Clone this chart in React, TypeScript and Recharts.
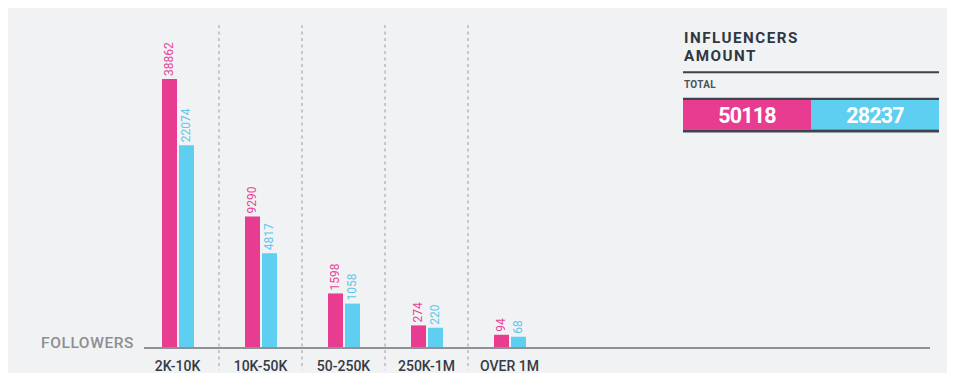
import React from 'react';
import { BarChart, Bar, XAxis, YAxis, LabelList } from 'recharts';

// Follower brackets and the two influencer counts per bracket
const categories = ['2K-10K', '10K-50K', '50-250K', '250K-1M', 'OVER 1M'];
const magentaValues = [38862, 9290, 1598, 274, 94];
const cyanValues = [22074, 4817, 1058, 220, 68];

const titleLines = ['INFLUENCERS', 'AMOUNT'];
const totalLabel = 'TOTAL';
const axisTitle = 'FOLLOWERS';

const MAGENTA = '#e83c91';
const CYAN = '#5ecef1';
const PANEL = '#f1f2f4';
const DARK = '#2f3742';
const FONT = 'Roboto, "Noto Sans", sans-serif';

const W = 947;
const H = 373;
const MARGIN = { top: 17, right: 25, bottom: 0, left: 136 };
const X_AXIS_H = 33;
const PLOT_H = H - MARGIN.top - MARGIN.bottom - X_AXIS_H;

const rows = categories.map((name, i) => ({
  name,
  magenta: magentaValues[i],
  cyan: cyanValues[i],
}));

const sum = (list: number[]) => list.reduce((s, v) => s + v, 0);

// Rotated value label sitting just above each bar
const makeValueLabel = (color: string) => (props: any) => {
  const { x, y, width, value } = props;
  const cx = Number(x) + Number(width) / 2;
  const cy = Number(y) - 3;
  return (
    <text
      x={cx}
      y={cy}
      transform={`rotate(-90 ${cx} ${cy})`}
      textAnchor="start"
      dominantBaseline="central"
      fill={color}
      fontSize={12}
      fontFamily={FONT}
    >
      {value}
    </text>
  );
};

// Category name plus a dashed divider on the right edge of its band
const CategoryTick = (props: any) => {
  const { x, y, payload, index } = props;
  const half = payload && typeof payload.offset === 'number' ? payload.offset : 0;
  const isLast = index === categories.length - 1;
  return (
    <g>
      {!isLast && (
        <line
          x1={x + half}
          x2={x + half}
          y1={y - PLOT_H}
          y2={y + 22}
          stroke="#b4b6b9"
          strokeWidth={1.4}
          strokeDasharray="3 3.5"
        />
      )}
      <text
        x={x}
        y={y + 23}
        textAnchor="middle"
        fill="#353b44"
        fontSize={14}
        fontWeight={500}
        fontFamily={FONT}
      >
        {payload.value}
      </text>
    </g>
  );
};

export default function App() {
  const magentaTotal = sum(magentaValues);
  const cyanTotal = sum(cyanValues);
  return (
    <div
      style={{
        position: 'relative',
        width: W,
        height: H,
        background: PANEL,
        marginBottom: -8,
        marginRight: -8,
      }}
    >
      <BarChart width={W} height={H} data={rows} margin={MARGIN} barSize={15} barGap={2}>
        <YAxis hide type="number" scale="sqrt" domain={[0, 56000]} allowDataOverflow />
        <XAxis
          dataKey="name"
          height={X_AXIS_H}
          padding={{ left: -8, right: 379 }}
          tickLine={false}
          tickSize={0}
          tickMargin={0}
          interval={0}
          axisLine={{ stroke: '#8f9195', strokeWidth: 2 }}
          tick={(p: any) => <CategoryTick {...p} />}
        />
        <Bar dataKey="magenta" fill={MAGENTA} isAnimationActive={false}>
          <LabelList dataKey="magenta" content={makeValueLabel('#e8449a')} />
        </Bar>
        <Bar dataKey="cyan" fill={CYAN} isAnimationActive={false}>
          <LabelList dataKey="cyan" content={makeValueLabel('#5cc8ee')} />
        </Bar>
      </BarChart>

      <svg
        width={W}
        height={H}
        style={{ position: 'absolute', left: 0, top: 0, pointerEvents: 'none' }}
      >
        <text
          x={33}
          y={340}
          fill="#8b8e93"
          fontSize={15.5}
          fontWeight={500}
          letterSpacing={0.6}
          fontFamily={FONT}
        >
          {axisTitle}
        </text>

        <g fontFamily={FONT} fontWeight={700} fill={DARK}>
          <text x={676} y={35.3} fontSize={15.2} letterSpacing={1.5}>
            {titleLines[0]}
          </text>
          <text x={676} y={52.7} fontSize={15.2} letterSpacing={1.5}>
            {titleLines[1]}
          </text>
          <line x1={675} x2={931} y1={64.3} y2={64.3} stroke="#3b424b" strokeWidth={2} />
          <text x={676} y={80.3} fontSize={10} letterSpacing={0.3} fill="#4b5159">
            {totalLabel}
          </text>
        </g>

        <rect x={675} y={91.5} width={128} height={30} fill={MAGENTA} />
        <rect x={803} y={91.5} width={128} height={30} fill={CYAN} />
        <line x1={675} x2={931} y1={90.8} y2={90.8} stroke="#3d444d" strokeWidth={2.2} />
        <line x1={675} x2={931} y1={123} y2={123} stroke="#3d444d" strokeWidth={3} />
        <text
          x={739}
          y={114.5}
          textAnchor="middle"
          fill="#ffffff"
          fontSize={21.5}
          fontWeight={700}
          letterSpacing={-0.8}
          fontFamily={FONT}
        >
          {magentaTotal}
        </text>
        <text
          x={867}
          y={114.5}
          textAnchor="middle"
          fill="#ffffff"
          fontSize={21.5}
          fontWeight={700}
          letterSpacing={-0.8}
          fontFamily={FONT}
        >
          {cyanTotal}
        </text>
      </svg>
    </div>
  );
}
